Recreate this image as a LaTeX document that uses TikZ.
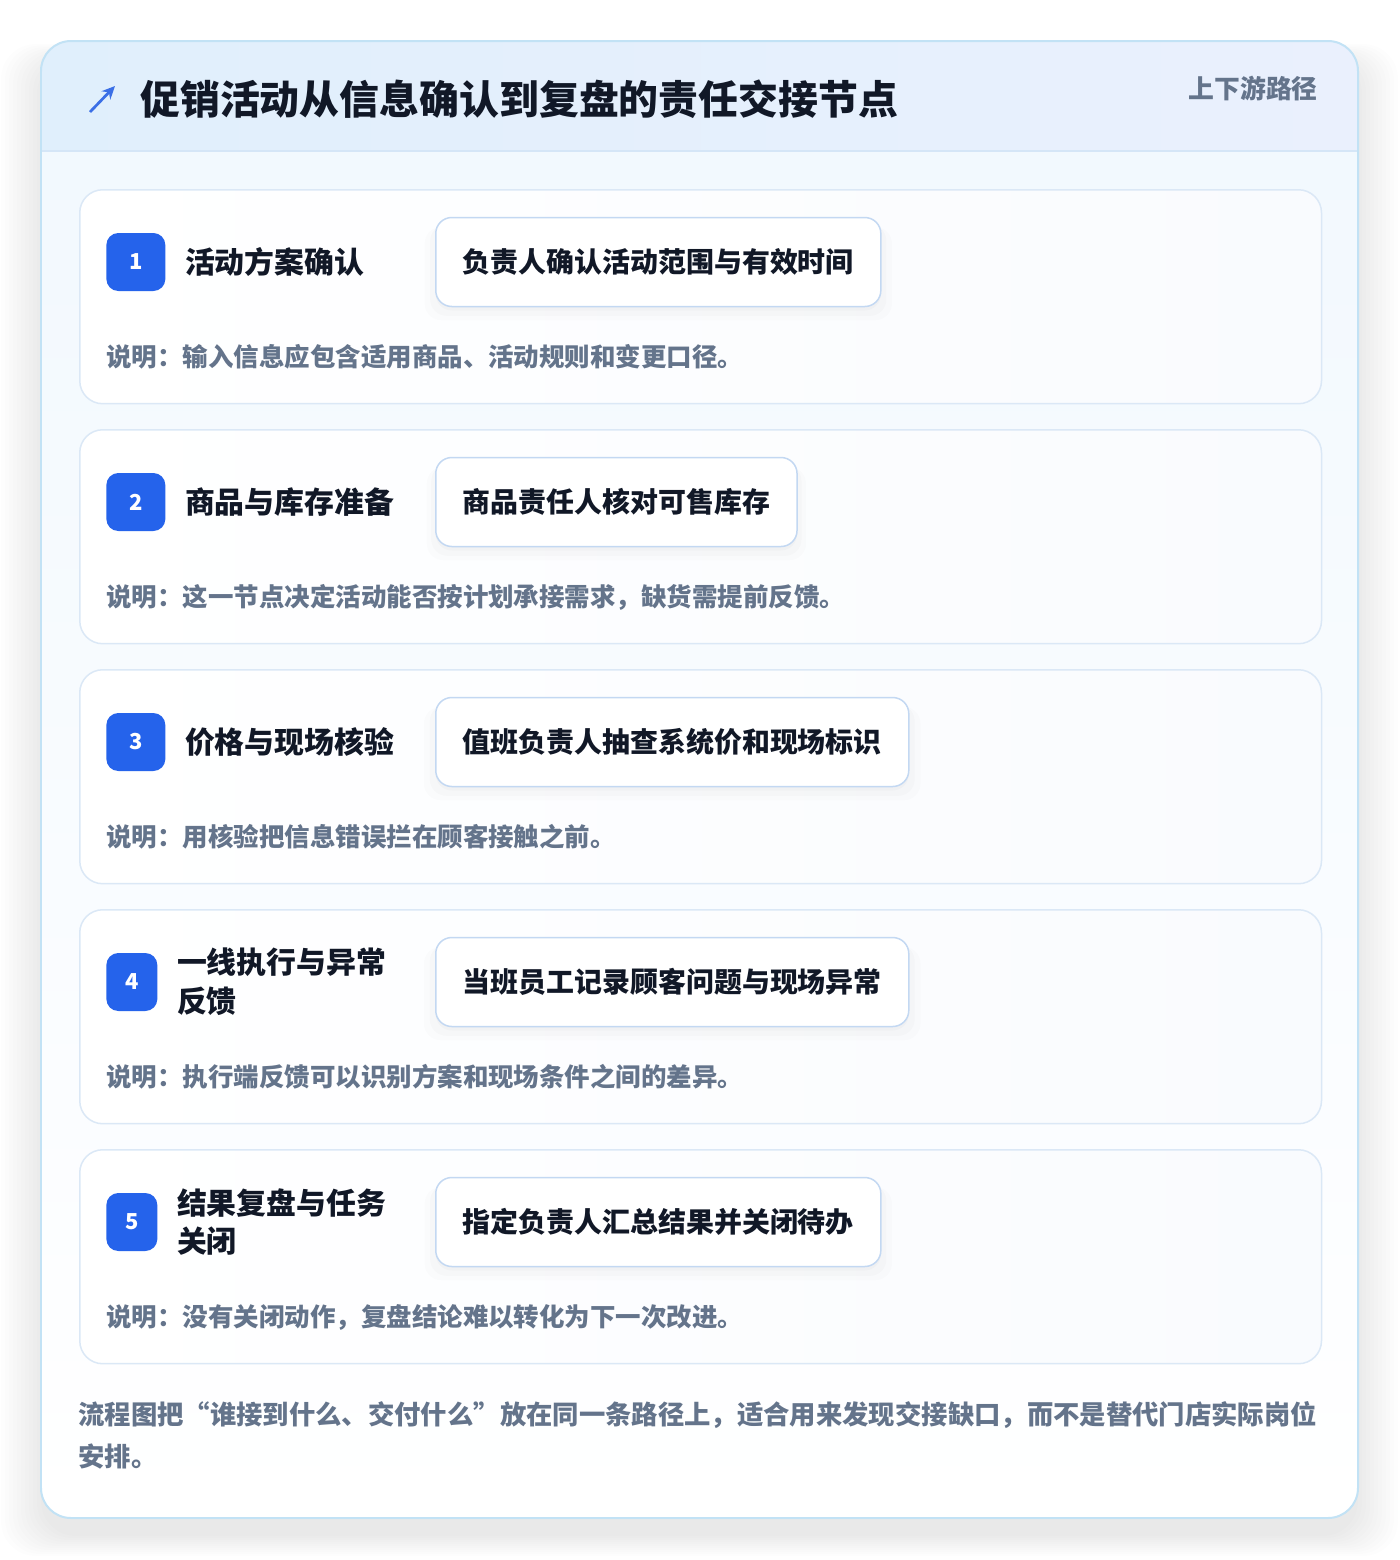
\documentclass[tikz,border=0pt]{standalone}
\usepackage{fontspec}
\setmainfont{Noto Sans CJK SC}
\usetikzlibrary{positioning,calc,arrows.meta,shadows}

\definecolor{hdrA}{HTML}{E0EFFC}
\definecolor{hdrB}{HTML}{EAF0FD}
\definecolor{hdrline}{HTML}{D5E6F7}
\definecolor{frame}{HTML}{C2E2F5}
\definecolor{bodybg}{HTML}{F1F8FE}
\definecolor{cardline}{HTML}{DBE8F6}
\definecolor{cardtint}{HTML}{F9FBFE}
\definecolor{boxline}{HTML}{C3D8F2}
\definecolor{badgeblue}{HTML}{2563EB}
\definecolor{iconblue}{HTML}{3B6FE6}
\definecolor{ink}{HTML}{111827}
\definecolor{muted}{HTML}{64748B}

\tikzset{
	card/.style={draw=cardline,line width=0.03cm,rounded corners=0.46cm,left color=white,right color=cardtint,
		minimum width=24.84cm,minimum height=4.28cm,anchor=north west,inner sep=0pt},
	badgebox/.style={fill=badgeblue,rounded corners=0.24cm,minimum height=1.16cm,inner sep=0pt,anchor=west,
		text=white,font=\bfseries\fontsize{12.5}{14}\selectfont},
	steptitle/.style={anchor=west,inner sep=0pt,align=left,text=ink,font=\bfseries\fontsize{17}{22}\selectfont},
	actbox/.style={draw=boxline,line width=0.03cm,fill=white,rounded corners=0.32cm,minimum height=1.78cm,
		inner xsep=0.54cm,anchor=west,text=ink,font=\bfseries\fontsize{15.9}{19}\selectfont,
		drop shadow={shadow xshift=0cm,shadow yshift=-0.22cm,opacity=0.012,fill=black,shadow scale=1.05},
		drop shadow={shadow xshift=0cm,shadow yshift=-0.16cm,opacity=0.015,fill=black,shadow scale=1.025},
		drop shadow={shadow xshift=0cm,shadow yshift=-0.08cm,opacity=0.018,fill=black}},
	notetext/.style={anchor=west,inner sep=0pt,text=muted,font=\bfseries\fontsize{14.5}{17}\selectfont}
}

\begin{document}
\begin{tikzpicture}[x=0.02cm,y=-0.02cm]
	\useasboundingbox (0,0) rectangle (1400,1560);
	\fill[white] (0,0) rectangle (1400,1560);
	% soft shadow under the frame
	\foreach \s in {0,4,...,40}
		\fill[black,opacity=0.007,rounded corners=0.7cm] (41-\s,60-\s*0.4) rectangle (1358+\s,1536+\s*0.5);
	\coordinate (frameNW) at (41,41);
	\coordinate (frameSE) at (1358,1518);
	\fill[top color=bodybg,bottom color=white,rounded corners=0.6cm] (frameNW) rectangle (frameSE);
	\begin{scope}
		\clip[rounded corners=0.6cm] (frameNW) rectangle (frameSE);
		\fill[left color=hdrA,right color=hdrB] (41,41) rectangle (1358,151);
	\end{scope}
	\draw[hdrline,line width=0.03cm] (41,151) -- (1358,151);
	\draw[frame,line width=0.04cm,rounded corners=0.6cm] (frameNW) rectangle (frameSE);

	% header
	\coordinate (icA) at (90,112);
	\coordinate (icB) at (115,86);
	\draw[iconblue,line width=0.055cm,-{Stealth[length=0.26cm,width=0.24cm]}] (icA) -- (icB);
	\node[anchor=west,inner sep=0pt,text=ink,font=\bfseries\fontsize{22.7}{26}\selectfont] (head) at (140,99)
		{促销活动从信息确认到复盘的责任交接节点};
	\node[anchor=east,inner sep=0pt,text=muted,font=\bfseries\fontsize{14.7}{17}\selectfont] (tag) at (1318,89)
		{上下游路径};

	% steps
	\foreach \i/\bw/\ttl/\act/\note in {
		1/59/{活动方案确认}/{负责人确认活动范围与有效时间}/{说明：输入信息应包含适用商品、活动规则和变更口径。},
		2/59/{商品与库存准备}/{商品责任人核对可售库存}/{说明：这一节点决定活动能否按计划承接需求，缺货需提前反馈。},
		3/59/{价格与现场核验}/{值班负责人抽查系统价和现场标识}/{说明：用核验把信息错误拦在顾客接触之前。},
		4/51/{一线执行与异常\\反馈}/{当班员工记录顾客问题与现场异常}/{说明：执行端反馈可以识别方案和现场条件之间的差异。},
		5/51/{结果复盘与任务\\关闭}/{指定负责人汇总结果并关闭待办}/{说明：没有关闭动作，复盘结论难以转化为下一次改进。}}
	{
		\pgfmathsetmacro\cardtop{189+(\i-1)*240}
		\node[card] (card\i) at (79,\cardtop) {};
		\node[badgebox,minimum width=\bw*0.02cm] (badge\i) at ($(card\i.north west)+(27,73)$) {\i};
		\node[steptitle,right=0.38cm of badge\i] (title\i) {\ttl};
		\node[actbox] (act\i) at ($(card\i.north west)+(356,73)$) {\act};
		\node[notetext] (note\i) at ($(card\i.north west)+(27,168)$) {\note};
	}

	\node[anchor=base west,inner sep=0pt,align=left,text=muted,font=\bfseries\fontsize{15}{23.8}\selectfont] (foot) at (78,1466)
		{流程图把“谁接到什么、交付什么”放在同一条路径上，适合用来发现交接缺口，而不是替代门店实际岗位\\安排。};
\end{tikzpicture}
\end{document}
